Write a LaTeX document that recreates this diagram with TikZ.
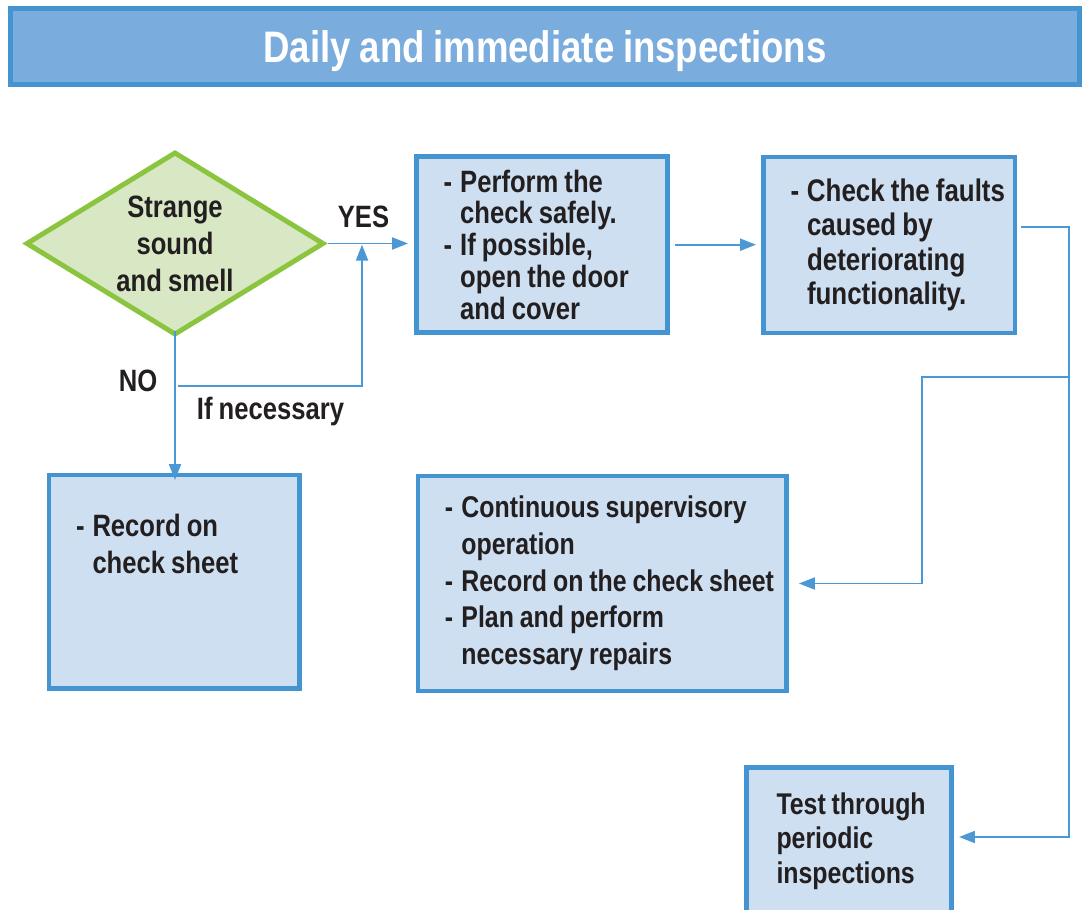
\documentclass[tikz,border=0pt]{standalone}
\usepackage{fontspec}
\setmainfont{Liberation Sans}[FakeStretch=0.83, WordSpace=0.85]
\usetikzlibrary{shapes.geometric,arrows.meta,calc}
\newlength\px \setlength\px{0.56693pt}
\newlength\lpad \setlength\lpad{27\px}
\newlength\dw \setlength\dw{16.5\px}
\newcommand\Dli[1]{\hspace*{\lpad}\mbox{\makebox[\dw][l]{-}#1}}
\newcommand\Cli[1]{\hspace*{\lpad}\mbox{\hspace*{\dw}#1}}
\definecolor{tfill}{HTML}{7AACDD}
\definecolor{bborder}{HTML}{4394D1}
\definecolor{bfill}{HTML}{CDDFF0}
\definecolor{dfill}{HTML}{D8E8C4}
\definecolor{dborder}{HTML}{8BC53F}
\definecolor{lblue}{HTML}{4A98D5}
\definecolor{ink}{HTML}{231F20}
\tikzset{
  box/.style={draw=bborder, fill=bfill, line width=2.6pt, inner xsep=0pt, inner ysep=0pt,
    outer sep=0pt, align=flush left, text=ink},
  lbltxt/.style={inner sep=0pt, outer sep=0pt, align=flush left, text=ink},
  conn/.style={draw=lblue, line width=1.1pt, -{Triangle[length=9pt,width=6.8pt]}},
  lab/.style={text=ink, inner sep=0pt, anchor=base, font=\fontsize{17.5}{20}\selectfont\bfseries},
}
\begin{document}
\begin{tikzpicture}[x=\px, y=-\px]
\path[use as bounding box, clip] (0,0) rectangle (1084,910);
% title
\node[draw=bborder, fill=tfill, line width=2.8pt, outer sep=0pt,
      minimum width=1069\px, minimum height=76\px, text=white,
      text height=17.9pt, text depth=0pt,
      font=\fontsize{25}{28}\selectfont\bfseries] (title) at (545,46.5)
      {Daily and immediate inspections};
% decision
\node[diamond, aspect=1.64, draw=dborder, fill=dfill, line width=2.8pt, inner sep=0pt, outer sep=0pt,
      minimum width=296\px, minimum height=181\px, align=flush center, text=ink,
      font=\fontsize{17.5}{21}\selectfont\bfseries] (q) at (175,243.5)
      {Strange\\sound\\and smell};
% boxes
\node[box, text width=251\px, minimum height=176\px,
      font=\fontsize{17.5}{18}\selectfont\bfseries] (b1) at (542.2,244.7)
      {\Dli{Perform the}\\\Cli{check safely.}\\\Dli{If possible,}\\\Cli{open the door}\\\Cli{and cover}};
\node[box, text width=251.5\px, minimum height=176\px,
      font=\fontsize{17.7}{19.6}\selectfont\bfseries] (b2) at (889.25,245)
      {\Dli{Check the faults}\\\Cli{caused by}\\\Cli{deteriorating}\\\Cli{functionality.}};
\node[box, text width=368.7\px, minimum height=214.6\px,
      font=\fontsize{17}{20.8}\selectfont\bfseries] (b3) at (602.3,583.5)
      {\Dli{Continuous supervisory}\\\Cli{operation}\\\Dli{Record on the check sheet}\\\Dli{Plan and perform}\\\Cli{necessary repairs}};
\node[box, minimum width=250.5\px, minimum height=213.5\px,
      label={[lbltxt, anchor=north west, yshift=-39.5\px,
              font=\fontsize{17.5}{20.8}\selectfont\bfseries]north west:{\Dli{Record on}\\\Cli{check sheet}}}]
      (b5) at (174.25,581.75) {};
\node[box, minimum width=205.2\px, minimum height=146\px,
      label={[lbltxt, anchor=north west, xshift=30\px, yshift=-25\px,
              font=\fontsize{17}{19.8}\selectfont\bfseries]north west:{Test through\\periodic\\inspections}}]
      (b4) at (849.1,840.3) {};
% labels
\node[lab] (yes) at (363.5,228) {YES};
\node[lab] (no) at (138,392) {NO};
\node[lab] (ifn) at (270.5,420) {If necessary};
% helper coordinates
\coordinate (r) at (1068.7,227);
\coordinate (j) at (1068.7,377);
\coordinate (k) at (922,377);
\coordinate (n1) at (178,386);
\coordinate (n2) at (362,386);
% connectors
\draw[conn, shorten <=5\px, shorten >=8.7\px] (q.east) -- (q.east -| b1.west);
\draw[conn, shorten <=7.3\px, shorten >=7.5\px] (b1.east) -- (b1.east -| b2.west);
\draw[conn, shorten >=7.3\px] ([xshift=6\px,yshift=18\px]b2.east) -- (r) |- ([yshift=3.3\px]b4.east);
\draw[conn, shorten >=12.3\px] (j) -- (k) |- (b3.east);
\draw[conn, shorten <=-3\px, shorten >=-5\px] (q.south) -- (q.south |- b5.north);
\draw[conn, shorten >=1.2\px] (n1) -- (n2) -- (n2 |- q.east);
\end{tikzpicture}
\end{document}
